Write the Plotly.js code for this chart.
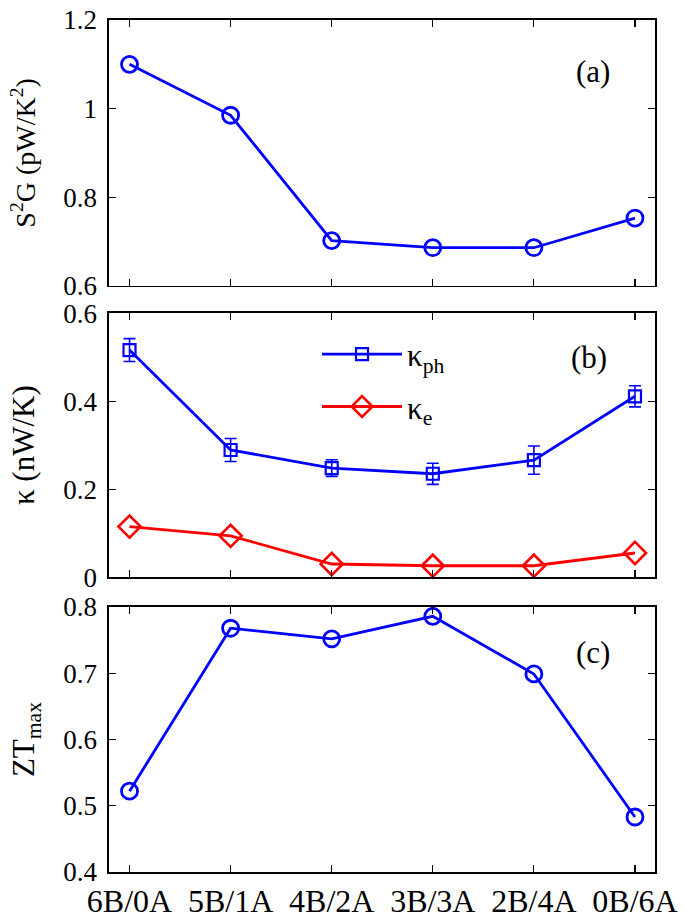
<!DOCTYPE html>
<html>
<head>
<meta charset="utf-8">
<script src="https://cdn.plot.ly/plotly-3.0.1.min.js"></script>
<style>html,body{margin:0;padding:0;background:#fff;}</style>
</head>
<body>
<div id="chart" style="width:685px;height:919px;"></div>
<script>
const categories = ["6B/0A", "5B/1A", "4B/2A", "3B/3A", "2B/4A", "0B/6A"];
const s2g = [1.10, 0.985, 0.702, 0.686, 0.686, 0.753];
const kappaPh = [0.516, 0.289, 0.248, 0.235, 0.266, 0.411];
const kappaPhErr = [0.026, 0.026, 0.019, 0.024, 0.032, 0.024];
const kappaE = [0.115, 0.094, 0.030, 0.026, 0.026, 0.055];
const ztMax = [0.522, 0.768, 0.752, 0.786, 0.699, 0.483];

const font = "'Liberation Serif', 'Times New Roman', serif";
const blue = "#0000ff", red = "#ff0000";

const traces = [
  {x: categories, y: s2g, xaxis: "x", yaxis: "y", mode: "lines+markers", showlegend: false,
   line: {color: blue, width: 2.8},
   marker: {symbol: "circle-open", size: 16, color: blue, line: {width: 2.8, color: blue}}},
  {x: categories, y: kappaPh, xaxis: "x2", yaxis: "y2", mode: "lines+markers", name: "κ<sub>ph</sub>",
   legendgroup: "ph",
   error_y: {type: "data", array: kappaPhErr, visible: true, color: blue, thickness: 1.6, width: 6},
   line: {color: blue, width: 2.8},
   marker: {symbol: "square-open", size: 12, color: blue, line: {width: 2.2, color: blue}}},
  {x: categories, y: kappaE, xaxis: "x2", yaxis: "y2", mode: "lines+markers", name: "κ<sub>e</sub>",
   legendgroup: "e",
   line: {color: red, width: 2.8},
   marker: {symbol: "diamond-open", size: 17, color: red, line: {width: 2.6, color: red}}},
  {x: categories, y: ztMax, xaxis: "x3", yaxis: "y3", mode: "lines+markers", showlegend: false,
   line: {color: blue, width: 2.8},
   marker: {symbol: "circle-open", size: 16, color: blue, line: {width: 2.8, color: blue}}}
];

const xbase = {
  type: "category", range: [-0.203, 5.198], showgrid: false, zeroline: false,
  showline: true, mirror: "ticks", linecolor: "#000", linewidth: 1.6,
  ticks: "inside", ticklen: 7, tickwidth: 1.2, tickcolor: "#000",
  tickfont: {family: font, size: 32, color: "#000"}
};
const ybase = {
  showgrid: false, zeroline: false, showline: true, mirror: "ticks",
  linecolor: "#000", linewidth: 1.6, ticks: "inside", ticklen: 7, tickwidth: 1.2, tickcolor: "#000",
  tickfont: {family: font, size: 27, color: "#000"}, ticklabelstandoff: 5
};

const layout = {
  width: 685, height: 919,
  margin: {l: 109, r: 30, t: 20, b: 47},
  paper_bgcolor: "#fff", plot_bgcolor: "#fff",
  font: {family: font, color: "#000"},
  xaxis: Object.assign({}, xbase, {anchor: "y", showticklabels: false}),
  xaxis2: Object.assign({}, xbase, {anchor: "y2", showticklabels: false, matches: "x"}),
  xaxis3: Object.assign({}, xbase, {anchor: "y3", showticklabels: true, matches: "x"}),
  yaxis: Object.assign({}, ybase, {domain: [0.688, 1], range: [0.6, 1.2], dtick: 0.2, anchor: "x",
    title: {text: "S<sup>2</sup>G (pW/K<sup>2</sup>)", font: {family: font, size: 28}, standoff: 19}}),
  yaxis2: Object.assign({}, ybase, {domain: [0.346, 0.656], range: [0, 0.6], dtick: 0.2, anchor: "x2",
    title: {text: "κ (nW/K)", font: {family: font, size: 31}, standoff: 19}}),
  yaxis3: Object.assign({}, ybase, {domain: [0, 0.311], range: [0.4, 0.8], dtick: 0.1, anchor: "x3",
    title: {text: "ZT<sub>max</sub>", font: {family: font, size: 31}, standoff: 19}}),
  legend: {x: 0.381, y: 0.639, xanchor: "left", yanchor: "top", bgcolor: "rgba(0,0,0,0)",
    font: {family: font, size: 31, color: "#000"}, tracegroupgap: 9, itemwidth: 80},
  annotations: [
    {text: "(a)", xref: "x domain", yref: "y domain", x: 0.886, y: 0.808, xanchor: "center", yanchor: "middle",
     showarrow: false, font: {family: font, size: 31}},
    {text: "(b)", xref: "x2 domain", yref: "y2 domain", x: 0.880, y: 0.83, xanchor: "center", yanchor: "middle",
     showarrow: false, font: {family: font, size: 31}},
    {text: "(c)", xref: "x3 domain", yref: "y3 domain", x: 0.886, y: 0.83, xanchor: "center", yanchor: "middle",
     showarrow: false, font: {family: font, size: 31}}
  ]
};

Plotly.newPlot("chart", traces, layout, {displayModeBar: false, staticPlot: true});
</script>
</body>
</html>
